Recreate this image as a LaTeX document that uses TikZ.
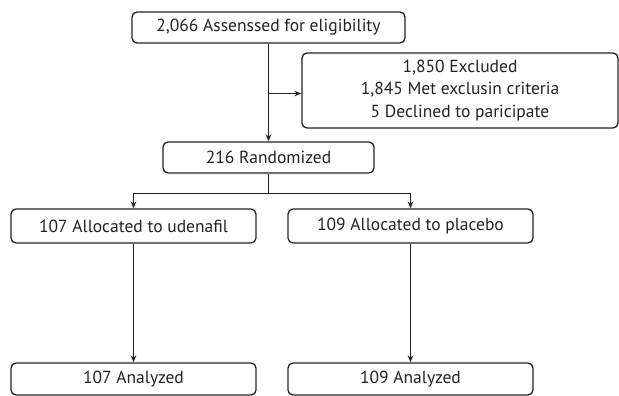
\documentclass[tikz,border=0pt]{standalone}
\usepackage{fontspec}
\setmainfont{PT Sans}
\usetikzlibrary{arrows.meta}
\definecolor{ink}{HTML}{222222}
\begin{document}
\begin{tikzpicture}[x=1pt,y=-1pt,
  box/.style={draw=ink, line width=1.3pt, rounded corners=5pt, inner sep=0pt,
    font=\fontsize{17.5}{22.5}\selectfont, text=ink, align=center},
  conn/.style={draw=ink, line width=1.2pt},
  arr/.style={conn, -{Stealth[length=7pt,width=5.5pt]}}]
\useasboundingbox (0,0) rectangle (619,396);
\node[box, minimum width=273pt, minimum height=31pt] (top) at (268.5,27.5) {2,066 Assenssed for eligibility};
\node[box, minimum width=316pt, minimum height=75pt] (excl) at (460,90.5) {1,850 Excluded\\1,845 Met exclusin criteria\\5 Declined to paricipate};
\node[box, minimum width=211pt, minimum height=31pt] (rand) at (268.5,157.5) {216 Randomized};
\node[box, minimum width=245pt, minimum height=34pt] (la) at (133.5,226) {107 Allocated to udenafil};
\node[box, minimum width=245pt, minimum height=34pt] (ra) at (410.5,226) {109 Allocated to placebo};
\node[box, minimum width=245pt, minimum height=32pt] (lb) at (133.5,379) {107 Analyzed};
\node[box, minimum width=245pt, minimum height=32pt] (rb) at (410.5,379) {109 Analyzed};
\coordinate (br) at (268.5,93.5);
\coordinate (split) at (268.5,193.5);
\draw[arr] (top.south) -- (rand.north);
\draw[arr] (br) -- (br -| excl.west);
\draw[conn] (rand.south) -- (split);
\draw[arr] (split) -| (la.north);
\draw[arr] (split) -| (ra.north);
\draw[arr] (la.south) -- (lb.north);
\draw[arr] (ra.south) -- (rb.north);
\end{tikzpicture}
\end{document}
